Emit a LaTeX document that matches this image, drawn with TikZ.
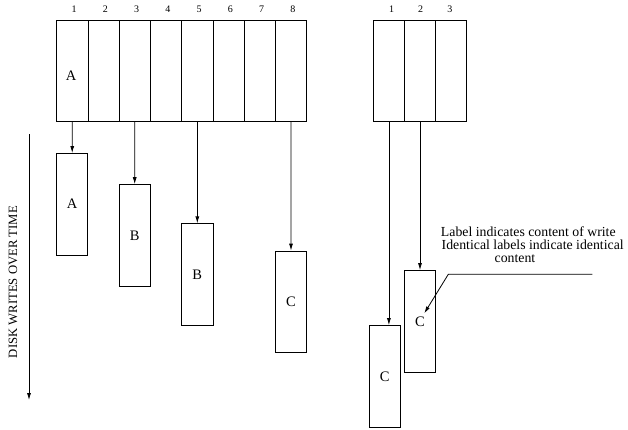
\documentclass[tikz,border=0pt]{standalone}
\usepackage{fontspec}
\setmainfont{Liberation Serif}
\usetikzlibrary{arrows.meta}
\begin{document}
\begin{tikzpicture}[x=1pt,y=-1pt,line width=0.8pt,
  cell/.style={draw,rectangle,minimum width=31.2pt,minimum height=101pt,inner sep=0pt},
  wbox/.style={draw,rectangle,minimum width=31.2pt,minimum height=101.5pt,inner sep=0pt,font=\fontsize{14.5}{14.5}\selectfont},
  num/.style={font=\fontsize{10}{10}\selectfont,inner sep=0pt},
  arr/.style={-{Latex[length=7pt,width=4pt]}},
  note/.style={font=\fontsize{13.8}{13.8}\selectfont,inner sep=0pt,anchor=base}]
\useasboundingbox (0,0) rectangle (628,429);
% left array
\foreach \i in {1,...,8} {
  \node[cell] (c\i) at ({72.3+(\i-1)*31.25},71.2) {};
  \node[num] (n\i) at ({74+(\i-1)*31.25},9.5) {\i};
}
\node[font=\fontsize{14.5}{14.5}\selectfont,inner sep=0pt] (la) at (71,76) {A};
% right array
\foreach \i in {1,2,3} {
  \node[cell] (r\i) at ({388.9+(\i-1)*31.1},71.2) {};
  \node[num] (m\i) at ({391.5+(\i-1)*29.2},9.5) {\i};
}
% write boxes
\node[wbox] (wa) at (72.2,204.2) {A};
\node[wbox] (wb) at (134.7,235.3) {B};
\node[wbox] (wb2) at (197.3,274.5) {B};
\node[wbox] (wc) at (291,301.8) {C};
\node[wbox] (wc1) at (384.8,376.3) {C};
\node[wbox] (wc2) at (420,321.3) {C};
% arrows
\draw[arr] (c1.south) -- (wa.north);
\draw[arr] (c3.south) -- (wb.north);
\draw[arr] (c5.south) -- (wb2.north);
\draw[arr] (c8.south) -- (wc.north);
\draw[arr] (r1.south) -- (r1.south |- wc1.north);
\draw[arr] (r2.south) -- (wc2.north);
% time axis
\coordinate (t0) at (29,134);
\coordinate (t1) at (29,400);
\draw[arr] (t0) -- (t1);
\node[rotate=90,font=\fontsize{12.7}{12.7}\selectfont,inner sep=0pt] (tl) at (13,282) {DISK WRITES OVER TIME};
% note
\node[note] (nt1) at (528.3,236) {Label indicates content of write};
\node[note] (nt2) at (532.7,249) {Identical labels indicate identical};
\node[note] (nt3) at (515,262.5) {content};
\coordinate (p0) at (592.3,274.3);
\coordinate (p1) at (448.3,274.3);
\coordinate (p2) at (424.3,313.3);
\draw[arr] (p0) -- (p1) -- (p2);
\end{tikzpicture}
\end{document}
